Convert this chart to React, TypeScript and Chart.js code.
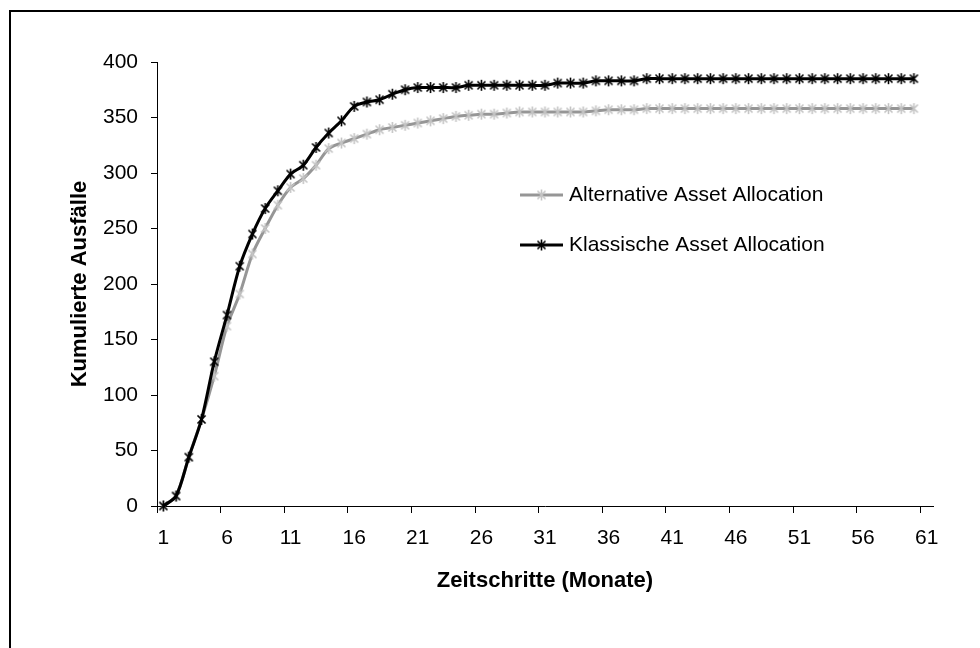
import React, { useEffect, useRef } from 'react';
import { Chart, registerables } from 'chart.js';

Chart.register(...registerables);

const categories: string[] = Array.from({ length: 61 }, (_, i) => String(i + 1));

const seriesNames = ['Alternative Asset Allocation', 'Klassische Asset Allocation'];

const alternativeValues = [
  0, 9, 44, 78, 117, 162, 191, 227, 250, 271,
  287, 295, 307, 322, 327, 331, 335, 339, 341, 343,
  345, 347, 349, 351, 352, 353, 353, 354, 355, 355,
  355, 355, 355, 355, 356, 357, 357, 357, 358, 358,
  358, 358, 358, 358, 358, 358, 358, 358, 358, 358,
  358, 358, 358, 358, 358, 358, 358, 358, 358, 358,
];

const klassischeValues = [
  0, 9, 44, 78, 130, 172, 216, 245, 268, 284,
  299, 307, 323, 336, 347, 360, 364, 366, 371, 375,
  377, 377, 377, 377, 379, 379, 379, 379, 379, 379,
  379, 381, 381, 381, 383, 383, 383, 383, 385, 385,
  385, 385, 385, 385, 385, 385, 385, 385, 385, 385,
  385, 385, 385, 385, 385, 385, 385, 385, 385, 385,
];

const FONT = "'Liberation Sans', Arial, Helvetica, sans-serif";

function makeAsterisk(color: string): HTMLCanvasElement {
  const c = document.createElement('canvas');
  c.width = 13;
  c.height = 13;
  const g = c.getContext('2d')!;
  g.strokeStyle = color;
  g.lineWidth = 1.6;
  g.beginPath();
  g.moveTo(2.5, 2.5);
  g.lineTo(10.5, 10.5);
  g.moveTo(10.5, 2.5);
  g.lineTo(2.5, 10.5);
  g.moveTo(6.5, 1);
  g.lineTo(6.5, 12);
  g.stroke();
  return c;
}

export default function App() {
  const canvasRef = useRef<HTMLCanvasElement | null>(null);

  useEffect(() => {
    const canvas = canvasRef.current;
    if (!canvas) return;

    const greyMarker = makeAsterisk('#c4c4c4');
    const blackMarker = makeAsterisk('#000000');

    const frameAndLegend = {
      id: 'frameAndLegend',
      beforeDraw(chart: any) {
        const ctx = chart.ctx;
        ctx.save();
        ctx.fillStyle = '#ffffff';
        ctx.fillRect(0, 0, chart.width, chart.height);
        ctx.strokeStyle = '#000000';
        ctx.lineWidth = 2;
        ctx.strokeRect(10, 11, 2000, 2000);
        ctx.restore();
      },
      afterDraw(chart: any) {
        const ctx = chart.ctx;
        const rows = [195, 245];
        const x0 = 520;
        const x1 = 563;
        ctx.save();
        chart.data.datasets.forEach((ds: any, i: number) => {
          const y = rows[i];
          ctx.strokeStyle = ds.borderColor;
          ctx.lineWidth = 3;
          ctx.beginPath();
          ctx.moveTo(x0, y);
          ctx.lineTo(x1, y);
          ctx.stroke();
          const img = ds.pointStyle as HTMLCanvasElement;
          ctx.drawImage(img, (x0 + x1) / 2 - img.width / 2, y - img.height / 2);
          ctx.fillStyle = '#000000';
          ctx.font = `21px ${FONT}`;
          ctx.textBaseline = 'middle';
          ctx.textAlign = 'left';
          ctx.fillText(ds.label, 569, y);
        });
        ctx.restore();
      },
    };

    const chart = new Chart(canvas, {
      type: 'line',
      data: {
        labels: categories,
        datasets: [
          {
            label: seriesNames[0],
            data: alternativeValues,
            borderColor: '#969696',
            borderWidth: 3,
            pointStyle: greyMarker as any,
            pointRadius: 5,
            tension: 0.3,
            fill: false,
            clip: false as any,
            order: 1,
          },
          {
            label: seriesNames[1],
            data: klassischeValues,
            borderColor: '#000000',
            borderWidth: 3,
            pointStyle: blackMarker as any,
            pointRadius: 5,
            tension: 0.3,
            fill: false,
            clip: false as any,
            order: 0,
          },
        ],
      },
      options: {
        animation: false,
        responsive: false,
        maintainAspectRatio: false,
        devicePixelRatio: 1,
        layout: { padding: { left: 0, right: 47, top: 62, bottom: 0 } },
        plugins: {
          legend: { display: false },
          tooltip: { enabled: false },
        },
        scales: {
          x: {
            type: 'category',
            offset: true,
            grid: {
              offset: true,
              drawOnChartArea: false,
              drawTicks: true,
              tickLength: 7,
              lineWidth: 1,
              color: (ctx: any) =>
                ctx.index !== undefined && ctx.index % 5 === 0 ? '#000000' : 'rgba(0,0,0,0)',
            },
            border: { display: true, color: '#000000', width: 1 },
            ticks: {
              autoSkip: false,
              maxRotation: 0,
              minRotation: 0,
              padding: 13,
              color: '#000000',
              font: { family: FONT, size: 21 },
              callback: (_v: any, i: number) => (i % 5 === 0 ? categories[i] : ''),
            },
            title: {
              display: true,
              text: 'Zeitschritte (Monate)',
              color: '#000000',
              font: { family: FONT, size: 22, weight: 'bold' },
              padding: { top: 0, bottom: 54 },
            },
            afterFit: (s: any) => {
              s.height = 142;
            },
          },
          y: {
            min: 0,
            max: 400,
            ticks: {
              stepSize: 50,
              padding: 13,
              color: '#000000',
              font: { family: FONT, size: 21 },
            },
            grid: {
              drawOnChartArea: false,
              drawTicks: true,
              tickLength: 6,
              color: '#000000',
            },
            border: { display: true, color: '#000000', width: 1 },
            title: {
              display: true,
              text: 'Kumulierte Ausfälle',
              color: '#000000',
              font: { family: FONT, size: 22, weight: 'bold' },
              padding: { top: 67, bottom: 0 },
            },
            afterFit: (s: any) => {
              s.width = 157;
            },
          },
        },
      } as any,
      plugins: [frameAndLegend],
    });

    return () => {
      chart.destroy();
    };
  }, []);

  return (
    <div style={{ position: 'absolute', left: 0, top: 0, width: 980, height: 648, background: '#fff' }}>
      <canvas ref={canvasRef} width={980} height={648} style={{ display: 'block', width: 980, height: 648 }} />
    </div>
  );
}
